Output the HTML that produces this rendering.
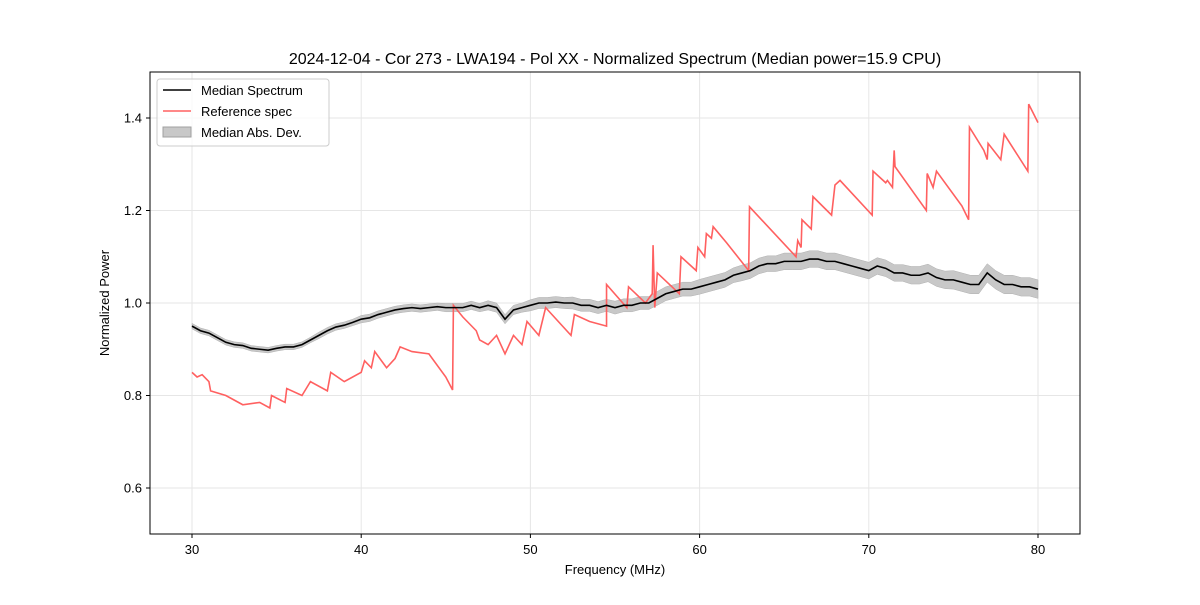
<!DOCTYPE html>
<html><head><meta charset="utf-8"><style>
body{margin:0;background:#fff;}
svg{font-family:"Liberation Sans","DejaVu Sans",sans-serif;}
</style></head><body>
<svg id="chart" width="1200" height="600" xmlns="http://www.w3.org/2000/svg">
<rect width="1200" height="600" fill="#fff"/>
<text x="615" y="64" font-size="16" text-anchor="middle">2024-12-04 - Cor 273 - LWA194 - Pol XX - Normalized Spectrum (Median power=15.9 CPU)</text>
<g id="grid"></g>
<g id="plot"></g>
<rect x="150" y="72" width="930" height="462" fill="none" stroke="#000" stroke-width="1"/>
<g id="ticks"></g>
<text x="615" y="574" font-size="13" text-anchor="middle">Frequency (MHz)</text>
<text x="109" y="303" font-size="13" text-anchor="middle" transform="rotate(-90 109 303)">Normalized Power</text>
<g>
<rect x="157" y="79" width="172" height="67" rx="3" fill="#fff" fill-opacity="0.8" stroke="#ccc"/>
<line x1="163" y1="90" x2="191" y2="90" stroke="#000" stroke-width="1.5"/>
<text x="201" y="95" font-size="13">Median Spectrum</text>
<line x1="163" y1="111" x2="191" y2="111" stroke="#ff6060" stroke-width="1.5"/>
<text x="201" y="116" font-size="13">Reference spec</text>
<rect x="163" y="127" width="28" height="10" fill="#c8c8c8" stroke="#a0a0a0"/>
<text x="201" y="137" font-size="13">Median Abs. Dev.</text>
</g>
</svg>
<script>
const xTicks=[30,40,50,60,70,80];
const yTicks=[0.6,0.8,1.0,1.2,1.4];
const medFreqStart=30, medFreqStep=0.5;
const medianValues=[0.95,0.94,0.935,0.925,0.915,0.91,0.908,0.902,0.9,0.898,
0.902,0.905,0.905,0.91,0.92,0.93,0.94,0.948,0.952,0.958,
0.965,0.968,0.975,0.98,0.985,0.988,0.99,0.988,0.99,0.992,
0.99,0.99,0.99,0.995,0.99,0.995,0.99,0.965,0.985,0.99,
0.995,1.0,1.0,1.002,1.0,1.0,0.995,0.995,0.99,0.995,
0.99,0.995,0.995,1.0,1.0,1.01,1.02,1.025,1.03,1.03,
1.035,1.04,1.045,1.05,1.06,1.065,1.07,1.08,1.085,1.085,
1.09,1.09,1.09,1.095,1.095,1.09,1.09,1.085,1.08,1.075,
1.07,1.08,1.075,1.065,1.065,1.06,1.06,1.065,1.055,1.05,
1.05,1.045,1.04,1.04,1.065,1.05,1.04,1.04,1.035,1.035,1.03];
const madValues=[0.006,0.006,0.006,0.007,0.008,0.008,0.009,0.01,0.012,0.013,0.014,0.015,0.016,0.017,0.018,0.018,0.018,0.019,0.02,0.02];
const refFreq=[30,30.3,30.6,31,31.1,32,32.5,33,34,34.6,34.7,35.5,35.6,36.5,37,38,38.2,39,40,40.2,40.6,40.8,41.5,42,42.3,43,44,45,45.4,45.45,46,46.8,47,47.5,48,48.5,49,49.5,49.8,50.5,50.9,52.4,52.6,53.5,54.5,54.5,55.7,55.8,56.8,57.2,57.25,57.35,57.5,58.8,58.9,59.8,59.9,60.3,60.4,60.7,60.8,61.6,62.9,62.95,65.7,65.8,66,66.05,66.6,66.7,67.8,68,68.3,70.2,70.25,71,71.1,71.4,71.5,71.55,73.4,73.45,73.8,74,75.5,75.9,75.95,76.8,77,77.05,77.8,78,79.4,79.45,80];
const refValues=[0.85,0.84,0.845,0.83,0.81,0.8,0.79,0.78,0.785,0.773,0.8,0.785,0.815,0.8,0.83,0.81,0.85,0.83,0.85,0.875,0.86,0.895,0.86,0.88,0.905,0.895,0.89,0.84,0.812,0.995,0.97,0.94,0.92,0.91,0.93,0.89,0.93,0.91,0.96,0.93,0.99,0.93,0.975,0.96,0.95,1.04,0.99,1.035,1.0,1.02,1.125,0.99,1.065,1.02,1.10,1.07,1.12,1.10,1.15,1.14,1.165,1.13,1.07,1.208,1.10,1.135,1.12,1.18,1.16,1.23,1.19,1.255,1.265,1.19,1.285,1.26,1.265,1.25,1.33,1.295,1.2,1.28,1.25,1.285,1.21,1.18,1.38,1.33,1.31,1.345,1.31,1.365,1.285,1.43,1.39];
const X=f=>192+(f-30)*(1038-192)/50;
const Y=v=>303-(v-1.0)*462.5;
const NS="http://www.w3.org/2000/svg";
function mk(parent,tag,attrs){const e=document.createElementNS(NS,tag);for(const k in attrs)e.setAttribute(k,attrs[k]);parent.appendChild(e);return e;}
const grid=document.getElementById('grid'),ticks=document.getElementById('ticks'),plot=document.getElementById('plot');
xTicks.forEach(t=>{
 const g=mk(grid,'line',{x1:X(t),x2:X(t),y1:72,y2:534,stroke:'#e6e6e6','stroke-width':1});
 
 
 const l=mk(ticks,'line',{x1:X(t),x2:X(t),y1:534,y2:538,stroke:'#000'});
 
 
 const tx=mk(ticks,'text',{x:X(t),y:554,'font-size':13,'text-anchor':'middle'});tx.textContent=t;
 
 
});
yTicks.forEach(t=>{
 const g=mk(grid,'line',{x1:150,x2:1080,y1:Y(t),y2:Y(t),stroke:'#e6e6e6','stroke-width':1});
 
 
 const l=mk(ticks,'line',{x1:146,x2:150,y1:Y(t),y2:Y(t),stroke:'#000'});
 
 
 const tx=mk(ticks,'text',{x:142,y:Y(t)+4.5,'font-size':13,'text-anchor':'end'});tx.textContent=t.toFixed(1);
 
 
});
const medF=medianValues.map((v,i)=>medFreqStart+i*medFreqStep);
const mad=i=>madValues[Math.min(madValues.length-1,Math.floor((medF[i]-30)/50*madValues.length))];
let up=medianValues.map((v,i)=>X(medF[i])+','+Y(v+mad(i)));
let dn=medianValues.map((v,i)=>X(medF[i])+','+Y(v-mad(i))).reverse();
const band=mk(plot,'polygon',{points:up.concat(dn).join(' '),fill:'#c8c8c8',stroke:'#b0b0b0','stroke-width':0.5});


const ref=mk(plot,'polyline',{points:refFreq.map((f,i)=>X(f)+','+Y(refValues[i])).join(' '),fill:'none',stroke:'#ff6060','stroke-width':1.6});


const med=mk(plot,'polyline',{points:medianValues.map((v,i)=>X(medF[i])+','+Y(v)).join(' '),fill:'none',stroke:'#000','stroke-width':1.6});


</script>
</body></html>
